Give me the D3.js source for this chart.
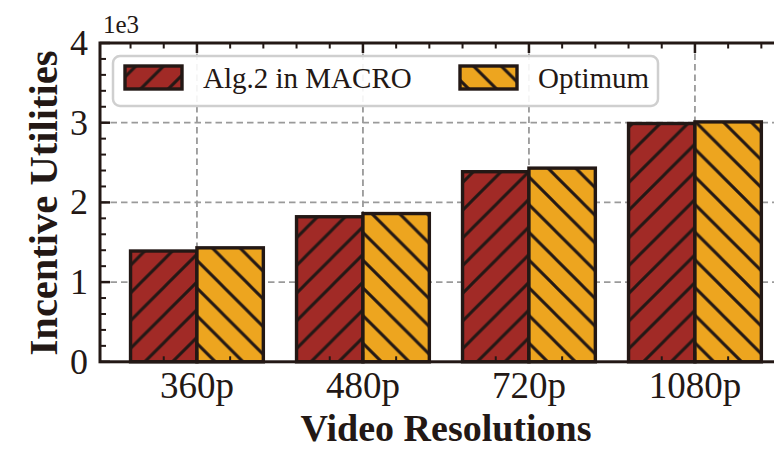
<!DOCTYPE html>
<html><head><meta charset="utf-8">
<script src="https://cdn.jsdelivr.net/npm/d3@7"></script>
<style>body{margin:0;background:#fff}svg{display:block}</style>
</head><body>
<svg id="c" width="774" height="449"></svg>
<script>
const categories = ["360p","480p","720p","1080p"];
const seriesNames = ["Alg.2 in MACRO","Optimum"];
const algValues = [1.39, 1.82, 2.385, 2.99];
const optValues = [1.43, 1.86, 2.43, 3.01];
const yTicks = [0,1,2,3,4];

const svg = d3.select("#c");
const ink = "#231815";
const colors = ["#A12A26","#EDA51F"];
const L = 100, T = 43, B = 361.8;
const x = d3.scaleLinear().domain([-0.584, 3.5]).range([L, L + 4.084*166]);
const y = d3.scaleLinear().domain([0,4]).range([B, T]);
const R = x(3.5);
const font = "'Liberation Serif','Times New Roman',serif";

// hatch patterns
const s = 27.7;
const defs = svg.append("defs");
function hatch(id, dir, lw, color){
  const p = defs.append("pattern").attr("id",id).attr("patternUnits","userSpaceOnUse")
    .attr("width",s).attr("height",s).attr("patternTransform","translate(0,8)");
  p.append("rect").attr("width",s).attr("height",s).attr("fill",color);
  const d = dir === "/" ?
    `M0,${s} L${s},0 M${-s/4},${s/4} L${s/4},${-s/4} M${3*s/4},${5*s/4} L${5*s/4},${3*s/4}` :
    `M0,0 L${s},${s} M${-s/4},${3*s/4} L${s/4},${5*s/4} M${3*s/4},${-s/4} L${5*s/4},${s/4}`;
  p.append("path").attr("d",d).attr("stroke",ink).attr("stroke-width",lw).attr("fill","none");
}
hatch("h0","/",3,colors[0]);
hatch("h1","\\",3,colors[1]);

// grid
const g = svg.append("g");
g.selectAll(".gy").data([1,2,3]).enter().append("line")
  .attr("x1",L).attr("x2",R).attr("y1",d=>y(d)).attr("y2",d=>y(d))
  .attr("stroke","#9a9a9a").attr("stroke-width",1.8).attr("stroke-dasharray","6.5,4");
g.selectAll(".gx").data(categories.map((c,i)=>i)).enter().append("line")
  .attr("x1",d=>x(d)).attr("x2",d=>x(d)).attr("y1",T).attr("y2",B)
  .attr("stroke","#9a9a9a").attr("stroke-width",1.8).attr("stroke-dasharray","6.5,4");

// bars
const bw = 0.4;
[algValues, optValues].forEach((vals, si) => {
  svg.append("g").selectAll("rect").data(vals).enter().append("rect")
    .attr("x", (d,i) => x(i - bw + si*bw))
    .attr("width", x(bw) - x(0))
    .attr("y", d => y(d))
    .attr("height", d => y(0) - y(d))
    .attr("fill", `url(#h${si})`)
    .attr("stroke", ink).attr("stroke-width", 3.4);
});

// ticks
const ax = svg.append("g").attr("stroke", ink);
const minorX = d3.range(-0.4, 3.5, 0.2).filter(v => Math.abs(v - Math.round(v)) > 1e-6);
categories.forEach((c,i) => {
  ax.append("line").attr("x1",x(i)).attr("x2",x(i)).attr("y1",T).attr("y2",T+10).attr("stroke-width",2.5);
  ax.append("line").attr("x1",x(i)).attr("x2",x(i)).attr("y1",B).attr("y2",B-10).attr("stroke-width",2.5);
});
minorX.forEach(v => {
  ax.append("line").attr("x1",x(v)).attr("x2",x(v)).attr("y1",T).attr("y2",T+5.5).attr("stroke-width",2);
  ax.append("line").attr("x1",x(v)).attr("x2",x(v)).attr("y1",B).attr("y2",B-5.5).attr("stroke-width",2);
});
yTicks.forEach(v => {
  ax.append("line").attr("x1",L).attr("x2",L+10).attr("y1",y(v)).attr("y2",y(v)).attr("stroke-width",2.5);
});
d3.range(0.2, 4, 0.2).filter(v => Math.abs(v - Math.round(v)) > 1e-6).forEach(v => {
  ax.append("line").attr("x1",L).attr("x2",L+6).attr("y1",y(v)).attr("y2",y(v)).attr("stroke-width",2);
});

// spines
svg.append("rect").attr("x",L).attr("y",T).attr("width",R-L).attr("height",B-T)
  .attr("fill","none").attr("stroke",ink).attr("stroke-width",3);

// tick labels
svg.append("g").selectAll("text").data(yTicks).enter().append("text")
  .attr("x", 88).attr("y", d => y(d) + 12).attr("text-anchor","end")
  .attr("font-family",font).attr("font-size",36).attr("fill",ink).text(d => d);
svg.append("text").attr("x",103).attr("y",33).attr("font-family",font).attr("font-size",25)
  .attr("fill",ink).text("1e3");
svg.append("g").selectAll("text").data(categories).enter().append("text")
  .attr("x",(d,i)=>x(i)).attr("y",397.5).attr("text-anchor","middle")
  .attr("font-family",font).attr("font-size",37).attr("fill",ink).text(d=>d);

// axis labels
svg.append("text").attr("x",446).attr("y",440.5).attr("text-anchor","middle")
  .attr("font-family",font).attr("font-weight","bold").attr("font-size",38).attr("fill",ink)
  .text("Video Resolutions");
svg.append("text").attr("transform","translate(57,203) rotate(-90)").attr("text-anchor","middle")
  .attr("font-family",font).attr("font-weight","bold").attr("font-size",40.5).attr("fill",ink)
  .text("Incentive Utilities");

// legend
const lg = svg.append("g");
lg.append("rect").attr("x",113).attr("y",56).attr("width",545).attr("height",50).attr("rx",7)
  .attr("fill","#fff").attr("fill-opacity",0.9).attr("stroke","#cfcfcf").attr("stroke-width",2.5);
const legX = [125, 460];
seriesNames.forEach((n,i) => {
  lg.append("rect").attr("x",legX[i]).attr("y",66).attr("width",57).attr("height",23)
    .attr("fill",`url(#h${i})`).attr("stroke",ink).attr("stroke-width",3.4);
  lg.append("text").attr("x",legX[i]+78).attr("y",88).attr("font-family",font).attr("font-size",29)
    .attr("fill",ink).text(n);
});
</script>
</body></html>
